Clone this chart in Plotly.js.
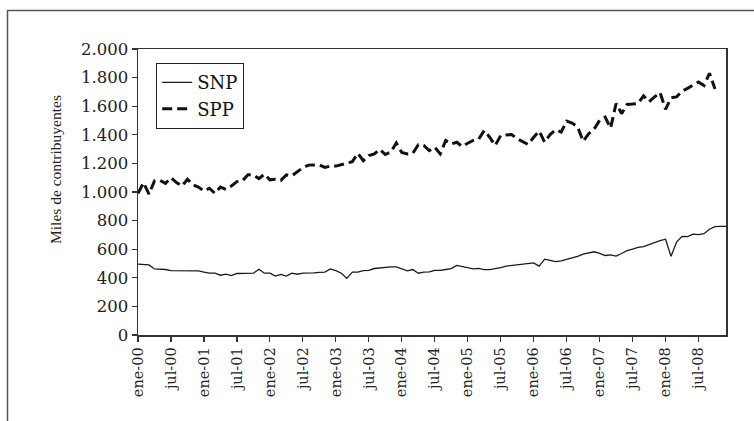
<!DOCTYPE html>
<html>
<head>
<meta charset="utf-8">
<script src="https://cdn.plot.ly/plotly-3.0.1.min.js"></script>
<style>
  html, body { margin: 0; padding: 0; background: #ffffff; }
  #chart { width: 754px; height: 421px; }
</style>
</head>
<body>
<div id="chart"></div>
<script>
// Monthly series, ene-00 .. dic-08 (thousands of taxpayers)
const snp = [
  495, 490, 490, 462, 460, 458, 450, 450, 450, 450, 450, 448,
  440, 432, 432, 418, 425, 415, 430, 432, 432, 432, 460, 432,
  432, 412, 424, 412, 432, 425, 432, 432, 435, 438, 440, 462,
  450, 432, 396, 440, 440, 450, 452, 465, 470, 476, 476, 476,
  464, 448, 458, 432, 440, 442, 452, 452, 458, 464, 487, 479,
  471, 462, 466, 457, 457, 462, 471, 482, 487, 487, 495, 499,
  504, 482, 530, 522, 513, 519, 530, 537, 550, 565, 575, 582,
  570, 556, 560, 552, 570, 590, 600, 612, 618, 632, 650, 660,
  670, 550, 650, 690, 688, 705, 702, 708, 740, 758, 760, 760
];
const spp = [
  990, 1065, 985, 1078, 1082, 1060, 1100, 1066, 1042, 1089, 1050, 1035,
  1007, 1026, 990, 1035, 1019, 1042, 1073, 1078, 1120, 1120, 1094, 1125,
  1085, 1089, 1082, 1120, 1113, 1141, 1170, 1188, 1188, 1190, 1172, 1181,
  1181, 1190, 1202, 1212, 1270, 1219, 1254, 1266, 1298, 1262, 1280, 1343,
  1276, 1266, 1270, 1330, 1325, 1289, 1313, 1266, 1360, 1336, 1348, 1318,
  1341, 1360, 1370, 1430, 1383, 1325, 1395, 1400, 1402, 1372, 1350, 1332,
  1383, 1426, 1348, 1402, 1435, 1419, 1496, 1482, 1455, 1355, 1407, 1440,
  1501, 1524, 1447, 1619, 1548, 1612, 1615, 1619, 1673, 1631, 1665, 1696,
  1578, 1658, 1665, 1705, 1725, 1748, 1770, 1745, 1830, 1720, null, null
];
const tickLabels = [
  "ene-00", "jul-00", "ene-01", "jul-01", "ene-02", "jul-02", "ene-03", "jul-03",
  "ene-04", "jul-04", "ene-05", "jul-05", "ene-06", "jul-06", "ene-07", "jul-07",
  "ene-08", "jul-08"
];
const seriesNames = ["SNP", "SPP"];
const yTitle = "Miles de contribuyentes";

const monthIdx = snp.map((_, i) => i);
const tickVals = tickLabels.map((_, k) => k * 6);

const W = 754, H = 421;
const M = { l: 138, r: 28, t: 49, b: 86 };
const pw = W - M.l - M.r, ph = H - M.t - M.b;
const px = v => (v - M.l) / pw;
const py = v => (H - M.b - v) / ph;

const serif = "DejaVu Serif, Liberation Serif, serif";

const traces = [
  {
    x: monthIdx, y: snp, name: seriesNames[0], type: "scatter", mode: "lines",
    line: { color: "#1a1a1a", width: 1.3 }
  },
  {
    x: monthIdx, y: spp, name: seriesNames[1], type: "scatter", mode: "lines",
    line: { color: "#111111", width: 3, dash: "10px,5px" }, connectgaps: false
  }
];

const layout = {
  width: W, height: H,
  margin: M,
  paper_bgcolor: "#ffffff", plot_bgcolor: "#ffffff",
  separators: ",.",
  showlegend: true,
  legend: {
    x: px(156), y: py(63), xanchor: "left", yanchor: "top",
    bgcolor: "#ffffff", bordercolor: "#222222", borderwidth: 1.2,
    font: { family: serif, size: 18, color: "#111111" },
    tracegroupgap: 0
  },
  xaxis: {
    range: [0, 107], tickmode: "array", tickvals: tickVals, ticktext: tickLabels,
    tickangle: -90, ticks: "outside", ticklen: 5, tickwidth: 1.2, tickcolor: "#333",
    showline: true, linecolor: "#333333", linewidth: 1.5, mirror: true,
    showgrid: false, zeroline: false,
    tickfont: { family: serif, size: 14.5, color: "#222222" }
  },
  yaxis: {
    range: [0, 2000], dtick: 200, tickformat: ",d",
    ticks: "outside", ticklen: 5, tickwidth: 1.2, tickcolor: "#333",
    showline: true, linecolor: "#333333", linewidth: 1.5, mirror: true,
    showgrid: false, zeroline: false,
    tickfont: { family: serif, size: 16.5, color: "#222222" }
  },
  annotations: [
    {
      text: yTitle, xref: "paper", yref: "paper",
      x: px(55), y: py(170), xanchor: "center", yanchor: "middle",
      textangle: -90, showarrow: false,
      font: { family: "Liberation Serif, serif", size: 15.5, color: "#222222" }
    }
  ],
  shapes: [
    {
      type: "rect", xref: "paper", yref: "paper",
      x0: px(7.5), x1: px(770), y0: py(440), y1: py(10.5),
      line: { color: "#555555", width: 1.5 }, fillcolor: "rgba(0,0,0,0)", layer: "below"
    }
  ]
};

Plotly.newPlot("chart", traces, layout, { displayModeBar: false, staticPlot: true });
</script>
</body>
</html>
